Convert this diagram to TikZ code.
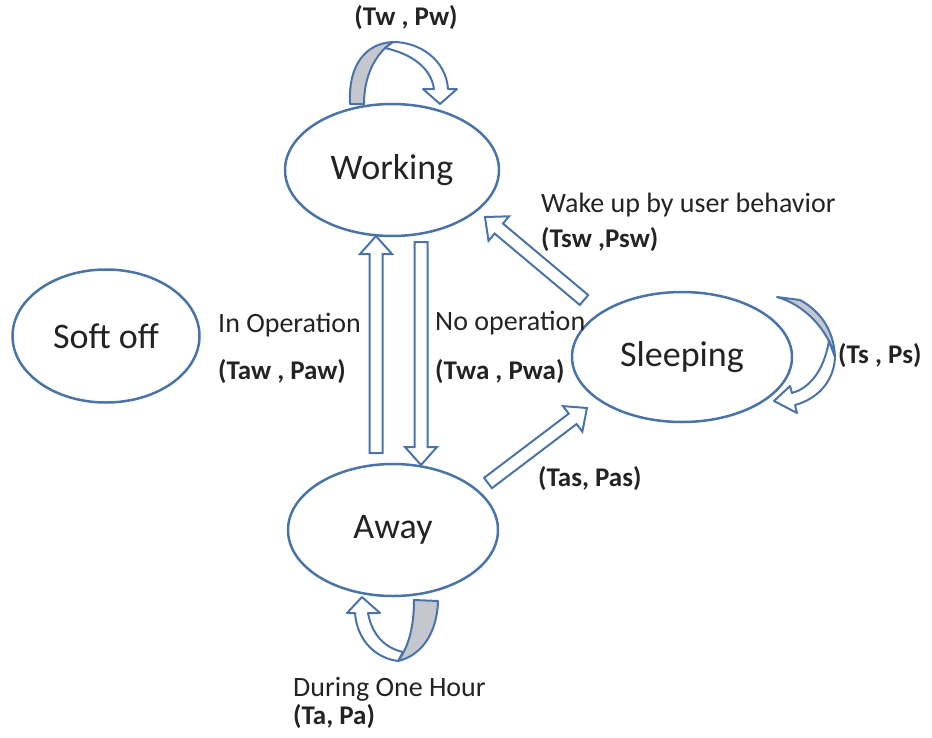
\documentclass[tikz,border=0pt]{standalone}
\usepackage{fontspec}
\setmainfont{Carlito}
\usetikzlibrary{shapes.geometric,calc}
\definecolor{stateblue}{RGB}{74,116,168}
\definecolor{foldgray}{RGB}{196,199,206}
\definecolor{textdark}{RGB}{35,35,35}

\newcommand{\hollowarrow}[2]{%
\path ($(#2)!18pt!(#1)$) coordinate (h);
\filldraw[arrowbox] ($(#1)!6.5pt!90:(#2)$) -- ($(h)!6.5pt!-90:(#1)$) -- ($(h)!16pt!-90:(#1)$) -- (#2) -- ($(h)!16pt!90:(#1)$) -- ($(h)!6.5pt!90:(#1)$) -- ($(#1)!6.5pt!-90:(#2)$) -- cycle;}

\begin{document}
\begin{tikzpicture}[x=1pt,y=-1pt,
  state/.style={ellipse,draw=stateblue,line width=2.5pt,inner sep=0pt,text=textdark,font=\fontsize{36}{40}\selectfont},
  lbl/.style={anchor=west,inner sep=0pt,text=textdark,font=\fontsize{28}{32}\selectfont},
  blbl/.style={lbl,font=\fontsize{27}{31}\selectfont\bfseries},
  arrowbox/.style={draw=stateblue,fill=white,line width=2pt},
  fold/.style={draw=stateblue,fill=foldgray,line width=2pt,line join=round},
  band/.style={draw=stateblue,fill=white,line width=2pt,line join=round}]
\useasboundingbox (0,0) rectangle (932,737);
\node[state,minimum width=214pt,minimum height=132pt] (working) at (392,170) {Working};
\node[state,minimum width=187pt,minimum height=133pt] (softoff) at (106,336) {Soft off};
\node[state,minimum width=220pt,minimum height=130pt] (sleeping) at (682,357) {Sleeping};
\node[state,minimum width=210pt,minimum height=132pt] (away) at (393,530) {Away};
\coordinate (awayup) at (376,453);   \coordinate (workin) at (376,236);
\coordinate (workout) at (421,242);  \coordinate (awayin) at (421,465);
\coordinate (sleepout) at (584,300); \coordinate (wakein) at (485,217);
\coordinate (awayout) at (488,483);  \coordinate (sleepin) at (587,408);
\hollowarrow{awayup}{workin}
\hollowarrow{workout}{awayin}
\hollowarrow{sleepout}{wakein}
\hollowarrow{awayout}{sleepin}
\filldraw[fold] (350,104) .. controls (348,62) and (368,43) .. (393,42) .. controls (380,50) and (364,70) .. (364,104) -- cycle;
\filldraw[band] (393,42) .. controls (420,42) and (446,60) .. (448,89) -- (457,89) -- (440,104) -- (423,89) -- (434,89) .. controls (431,68) and (412,54) .. (385,48) -- cycle;
\filldraw[fold] (800,300) .. controls (822,312) and (834,332) .. (835,357) .. controls (828,330) and (805,305) .. (777,297) -- cycle;
\filldraw[band] (835,357) .. controls (834,382) and (817,399) .. (795,405) -- (797,413) -- (774,401) -- (790,386) -- (792,393) .. controls (810,388) and (824,370) .. (829,341) -- cycle;
\filldraw[fold] (438,601) .. controls (437,635) and (420,656) .. (398,661) .. controls (408,648) and (414,628) .. (414,600) -- cycle;
\filldraw[band] (398,661) .. controls (375,658) and (357,640) .. (355,613) -- (347,613) -- (362,597) -- (380,613) -- (368,613) .. controls (372,635) and (385,648) .. (403,652) -- cycle;
\node[blbl,anchor=center] (selfwork) at (406,18) {(Tw , Pw)};
\node[lbl] (wake) at (541,205) {Wake up by user behavior};
\node[blbl] (wakecost) at (541,240) {(Tsw ,Psw)};
\node[lbl] (inop) at (218,325) {In Operation};
\node[blbl] (inopcost) at (218,372) {(Taw , Paw)};
\node[lbl] (noop) at (435,323) {No operation};
\node[blbl] (noopcost) at (435,372) {(Twa , Pwa)};
\node[blbl] (selfsleep) at (838,356) {(Ts , Ps)};
\node[blbl] (tosleep) at (538,479) {(Tas, Pas)};
\node[lbl] (hour) at (293,689) {During One Hour};
\node[blbl] (selfaway) at (293,717) {(Ta, Pa)};
\end{tikzpicture}
\end{document}
